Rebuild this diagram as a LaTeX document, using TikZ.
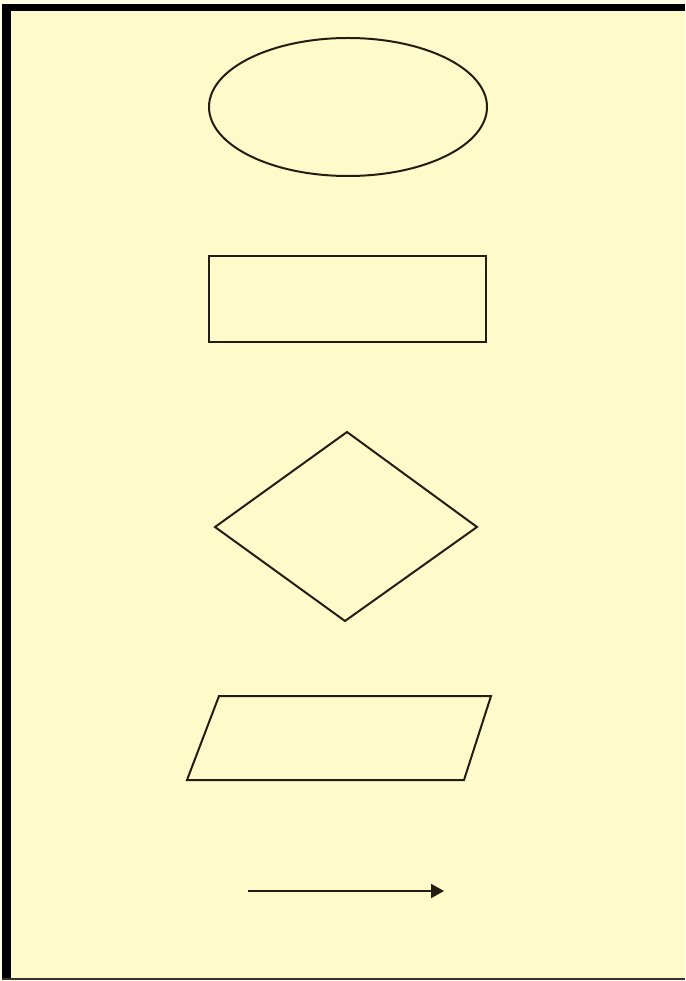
\documentclass[tikz,border=0pt]{standalone}
\usetikzlibrary{arrows.meta}
\definecolor{paper}{RGB}{255,250,202}
\definecolor{outer}{RGB}{255,255,232}
\definecolor{ink}{RGB}{35,30,20}
\tikzset{
  shapeline/.style={draw=ink, line width=2pt, line join=miter},
}
\begin{document}
\begin{tikzpicture}[x=1pt,y=-1pt]
\useasboundingbox (0,0) rectangle (685,981);
% background
\fill[outer] (0,0) rectangle (685,981);
\fill[paper] (2,4) rectangle (685,979);
% frame
\fill[black] (2,4) rectangle (11,979);
\fill[black] (2,4) rectangle (685,11);
\fill[black!80] (2,978) rectangle (685,980);
% ellipse
\draw[shapeline] (348,107) ellipse [x radius=139, y radius=69];
% rectangle
\draw[shapeline] (209,256) rectangle (486,342);
% diamond
\draw[shapeline] (347,432) -- (477,527) -- (345,621) -- (215,527) -- cycle;
% parallelogram
\draw[shapeline] (219,696) -- (491,696) -- (464,780) -- (187,780) -- cycle;
% arrow
\coordinate (a1) at (248,891);
\coordinate (a2) at (444,891);
\draw[draw=ink, line width=2pt, -{Triangle[length=13pt,width=14pt]}] (a1) -- (a2);
\end{tikzpicture}
\end{document}
